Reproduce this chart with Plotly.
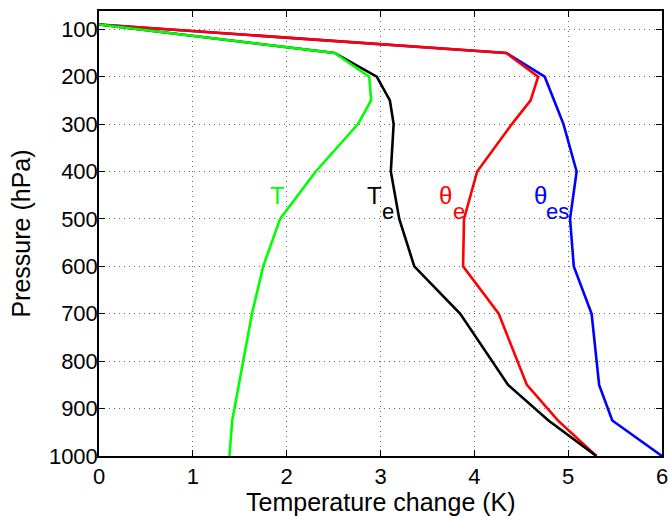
import plotly.graph_objects as go

# Pressure levels (hPa) and temperature-change profiles (K)
pressure = [90, 150, 200, 250, 300, 400, 500, 600, 700, 850, 925, 1000]
t_change = [0.0, 2.51, 2.88, 2.90, 2.76, 2.31, 1.93, 1.75, 1.63, 1.49, 1.42, 1.39]
te_change = [0.0, 2.51, 2.96, 3.10, 3.14, 3.11, 3.20, 3.36, 3.85, 4.36, 4.79, 5.30]
thetae_change = [0.0, 4.34, 4.68, 4.60, 4.40, 4.03, 3.89, 3.88, 4.26, 4.56, 4.89, 5.30]
thetaes_change = [0.0, 4.34, 4.75, 4.85, 4.95, 5.09, 5.02, 5.06, 5.25, 5.33, 5.47, 6.00]

x_ticks = [0, 1, 2, 3, 4, 5, 6]
y_ticks = [100, 200, 300, 400, 500, 600, 700, 800, 900, 1000]

FONT = "Liberation Sans, Arial, Helvetica, sans-serif"
LW = 2.6

fig = go.Figure()
for vals, col in [
    (thetaes_change, "#0000FF"),
    (thetae_change, "#FF0000"),
    (te_change, "#000000"),
    (t_change, "#00FF00"),
]:
    fig.add_trace(go.Scatter(
        x=vals, y=pressure, mode="lines",
        line=dict(color=col, width=LW), showlegend=False, hoverinfo="skip",
        cliponaxis=True,
    ))

# Curve labels with subscripts
labels = [
    ("T", 1.806, 451, "#00FF00", 24),
    ("T", 2.837, 451, "#000000", 24),
    ("e", 2.997, 484, "#000000", 22),
    ("θ", 3.603, 451, "#FF0000", 24),
    ("e", 3.752, 484, "#FF0000", 22),
    ("θ", 4.614, 451, "#0000FF", 24),
    ("es", 4.741, 484, "#0000FF", 22),
]
for txt, x, y, col, size in labels:
    fig.add_annotation(
        x=x, y=y, text=txt, showarrow=False, xanchor="left", yanchor="middle",
        font=dict(family=FONT, size=size, color=col),
    )

# x-axis title, placed just under the tick labels
fig.add_annotation(
    x=0.5, y=-0.104, xref="paper", yref="paper", text="Temperature change (K)",
    showarrow=False, xanchor="center", yanchor="middle",
    font=dict(family=FONT, size=25, color="black"),
)

axis_common = dict(
    showline=True, linecolor="black", linewidth=1.5, mirror="ticks",
    ticks="inside", ticklen=6, tickwidth=1.2, tickcolor="black",
    showgrid=True, gridcolor="#6a6a6a", gridwidth=1, griddash="1px,4px",
    zeroline=False, tickfont=dict(family=FONT, size=22, color="black"),
    automargin=False,
)

fig.update_xaxes(
    range=[0, 6], tickvals=x_ticks, ticktext=[str(v) for v in x_ticks],
    ticklabelstandoff=0,
    **axis_common,
)
fig.update_yaxes(
    range=[1000, 61.5], tickvals=y_ticks, ticktext=[str(v) for v in y_ticks],
    ticklabelstandoff=-5,
    title=dict(text="Pressure (hPa)", font=dict(family=FONT, size=25, color="black"), standoff=11),
    **axis_common,
)

fig.update_layout(
    width=669, height=516,
    margin=dict(l=99, r=7, t=11, b=60, pad=0),
    paper_bgcolor="white", plot_bgcolor="white",
)

fig.write_html("out.html")
